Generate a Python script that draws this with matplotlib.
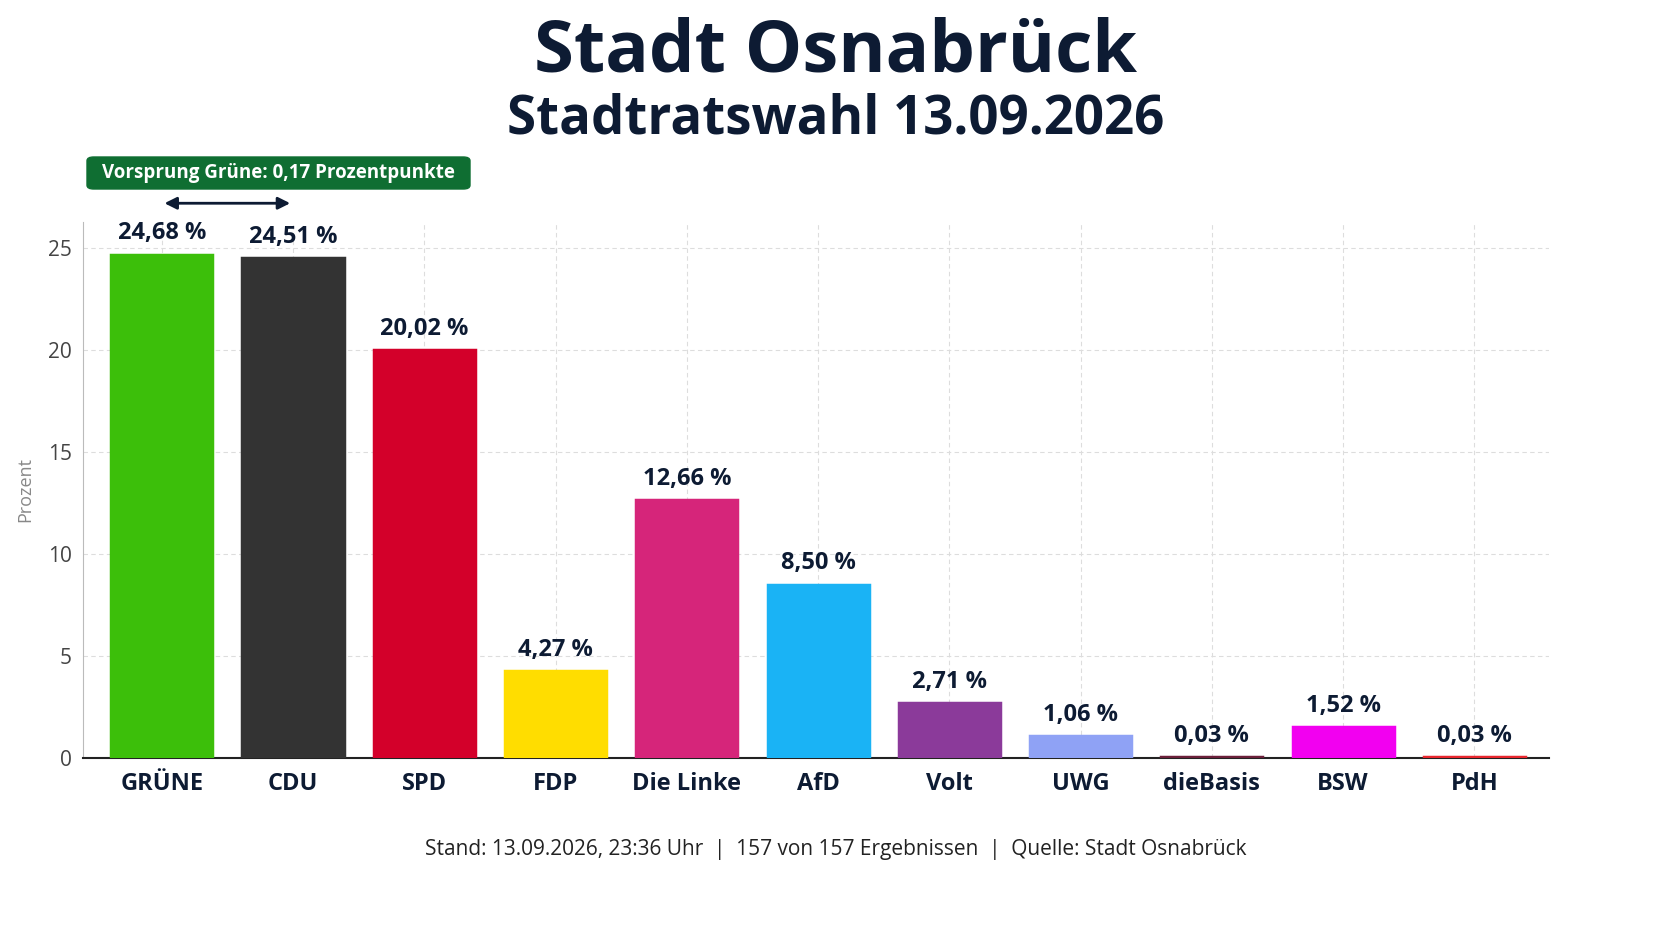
import matplotlib.pyplot as plt
from matplotlib.patches import FancyBboxPatch

parties = ["GRÜNE", "CDU", "SPD", "FDP", "Die Linke", "AfD", "Volt", "UWG", "dieBasis", "BSW", "PdH"]
values = [24.68, 24.51, 20.02, 4.27, 12.66, 8.50, 2.71, 1.06, 0.03, 1.52, 0.03]
colors = ["#3cbf0a", "#333333", "#d3002a", "#ffdd00", "#d6257a", "#1ab3f5",
          "#8b3a9a", "#8fa2f5", "#6b1f3a", "#f200f0", "#e8262e"]
yticks = [0, 5, 10, 15, 20, 25]

navy = "#0d1b33"
plt.rcParams['font.family'] = ['Open Sans', 'DejaVu Sans']

fig = plt.figure(figsize=(16.72, 9.41), dpi=100)
ax = fig.add_axes([0.0496, 0.1945, 0.877, 0.570])

x = range(len(parties))
# edge line keeps the near-zero bars visible, as in the reference
ax.bar(x, values, width=0.77, color=colors, edgecolor=colors, linewidth=2.5, zorder=3)
for i, v in enumerate(values):
    ax.text(i, v + 0.45, f"{v:.2f} %".replace(".", ","), ha="center", va="bottom",
            fontsize=17, fontweight="bold", color=navy, zorder=4)

ax.set_xlim(-0.6, 10.57)
ax.set_ylim(0, 26.3)
ax.set_xticks(list(x))
ax.set_xticklabels(parties, fontsize=17, fontweight="bold", color=navy)
ax.set_yticks(yticks)
ax.set_yticklabels([str(t) for t in yticks], fontsize=15, color="#444444")
ax.tick_params(axis="x", length=0, pad=10)
ax.tick_params(axis="y", length=0, pad=8)
ax.set_ylabel("Prozent", fontsize=13, color="#888888", labelpad=10)
ax.grid(True, color="#dddddd", linestyle=(0, (4, 3)), linewidth=0.8, zorder=0)
for s in ["top", "right"]:
    ax.spines[s].set_visible(False)
ax.spines["left"].set_color("#bbbbbb")
ax.spines["bottom"].set_color("#222222")
ax.spines["bottom"].set_linewidth(1.5)

# lead annotation
ax.annotate("", xy=(0, 27.2), xytext=(1, 27.2), xycoords="data",
            arrowprops=dict(arrowstyle="<|-|>", color=navy, lw=2, mutation_scale=18),
            annotation_clip=False)
fig.patches.append(FancyBboxPatch((87 / 1672, 1 - 189 / 941), 383 / 1672, 32 / 941,
                                  boxstyle="round,pad=0,rounding_size=0.004",
                                  transform=fig.transFigure, color="#0f6e32", zorder=5))
fig.text(278 / 1672, 1 - 173 / 941, "Vorsprung Grüne: 0,17 Prozentpunkte", ha="center", va="center",
         fontsize=13.5, fontweight="bold", color="white", zorder=6)

fig.text(0.5, 1 - 52 / 941, "Stadt Osnabrück", ha="center", va="center",
         fontsize=52, fontweight="bold", color=navy)
fig.text(0.5, 1 - 120 / 941, "Stadtratswahl 13.09.2026", ha="center", va="center",
         fontsize=38, fontweight="bold", color=navy)
fig.text(0.5, 1 - 850 / 941,
         "Stand: 13.09.2026, 23:36 Uhr  |  157 von 157 Ergebnissen  |  Quelle: Stadt Osnabrück",
         ha="center", va="center", fontsize=15, color="#222222")

fig.savefig("out.png", dpi=100)
